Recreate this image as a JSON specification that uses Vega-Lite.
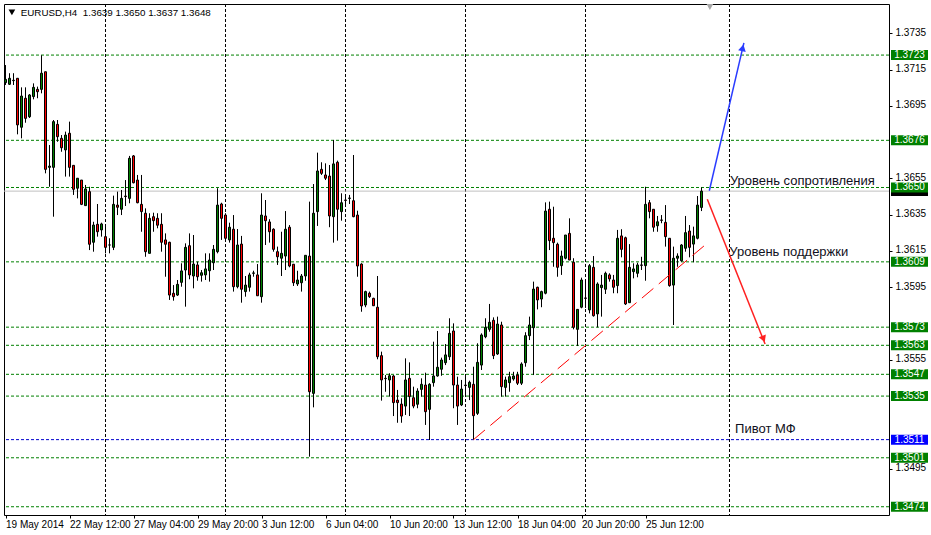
{
  "$schema": "https://vega.github.io/schema/vega-lite/v6.json",
  "width": 885,
  "height": 511,
  "autosize": {"type": "none"},
  "padding": {"left": 4, "top": 4, "right": 42, "bottom": 20},
  "background": "white",
  "config": {"font": "Liberation Sans", "view": {"stroke": "black", "strokeWidth": 1}, "axis": {"labelOverlap": false, "labelFlush": false, "labelBound": false}, "axisY": {"labelOverlap": false}},
  "datasets": {
    "candles": [
      {"i":0,"o":1.37078,"h":1.37175,"l":1.37065,"c":1.37096},
      {"i":1,"o":1.37069,"h":1.37130,"l":1.37065,"c":1.37102},
      {"i":2,"o":1.37089,"h":1.37130,"l":1.37065,"c":1.37091},
      {"i":3,"o":1.37102,"h":1.37102,"l":1.36793,"c":1.36845},
      {"i":4,"o":1.36832,"h":1.37052,"l":1.36771,"c":1.37004},
      {"i":5,"o":1.36992,"h":1.37052,"l":1.36857,"c":1.36881},
      {"i":6,"o":1.36890,"h":1.37015,"l":1.36883,"c":1.37010},
      {"i":7,"o":1.37001,"h":1.37074,"l":1.36986,"c":1.37052},
      {"i":8,"o":1.37041,"h":1.37056,"l":1.36992,"c":1.37028},
      {"i":9,"o":1.37041,"h":1.37229,"l":1.37019,"c":1.37130},
      {"i":10,"o":1.37138,"h":1.37138,"l":1.36578,"c":1.36600},
      {"i":11,"o":1.36611,"h":1.36734,"l":1.36504,"c":1.36618},
      {"i":12,"o":1.36611,"h":1.36872,"l":1.36339,"c":1.36863},
      {"i":13,"o":1.36848,"h":1.36872,"l":1.36752,"c":1.36780},
      {"i":14,"o":1.36771,"h":1.36789,"l":1.36697,"c":1.36719},
      {"i":15,"o":1.36707,"h":1.36808,"l":1.36560,"c":1.36789},
      {"i":16,"o":1.36799,"h":1.36863,"l":1.36560,"c":1.36611},
      {"i":17,"o":1.36622,"h":1.36622,"l":1.36459,"c":1.36490},
      {"i":18,"o":1.36496,"h":1.36551,"l":1.36440,"c":1.36551},
      {"i":19,"o":1.36541,"h":1.36541,"l":1.36403,"c":1.36407},
      {"i":20,"o":1.36400,"h":1.36514,"l":1.36400,"c":1.36492},
      {"i":21,"o":1.36477,"h":1.36504,"l":1.36155,"c":1.36187},
      {"i":22,"o":1.36198,"h":1.36311,"l":1.36146,"c":1.36293},
      {"i":23,"o":1.36297,"h":1.36409,"l":1.36229,"c":1.36256},
      {"i":24,"o":1.36266,"h":1.36306,"l":1.36229,"c":1.36299},
      {"i":25,"o":1.36229,"h":1.36284,"l":1.36137,"c":1.36170},
      {"i":26,"o":1.36183,"h":1.36220,"l":1.36137,"c":1.36183},
      {"i":27,"o":1.36170,"h":1.36455,"l":1.36155,"c":1.36407},
      {"i":28,"o":1.36403,"h":1.36477,"l":1.36348,"c":1.36391},
      {"i":29,"o":1.36380,"h":1.36486,"l":1.36348,"c":1.36440},
      {"i":30,"o":1.36453,"h":1.36541,"l":1.36398,"c":1.36450},
      {"i":31,"o":1.36440,"h":1.36674,"l":1.36413,"c":1.36661},
      {"i":32,"o":1.36674,"h":1.36679,"l":1.36523,"c":1.36526},
      {"i":33,"o":1.36541,"h":1.36569,"l":1.36413,"c":1.36416},
      {"i":34,"o":1.36407,"h":1.36569,"l":1.36256,"c":1.36367},
      {"i":35,"o":1.36358,"h":1.36385,"l":1.36118,"c":1.36146},
      {"i":36,"o":1.36137,"h":1.36358,"l":1.36137,"c":1.36330},
      {"i":37,"o":1.36339,"h":1.36361,"l":1.36256,"c":1.36317},
      {"i":38,"o":1.36330,"h":1.36358,"l":1.36275,"c":1.36292},
      {"i":39,"o":1.36297,"h":1.36358,"l":1.36146,"c":1.36198},
      {"i":40,"o":1.36211,"h":1.36247,"l":1.36008,"c":1.36187},
      {"i":41,"o":1.36198,"h":1.36201,"l":1.35880,"c":1.35907},
      {"i":42,"o":1.35917,"h":1.35962,"l":1.35876,"c":1.35898},
      {"i":43,"o":1.35907,"h":1.35990,"l":1.35902,"c":1.35966},
      {"i":44,"o":1.35977,"h":1.36082,"l":1.35953,"c":1.36040},
      {"i":45,"o":1.36045,"h":1.36192,"l":1.35843,"c":1.36170},
      {"i":46,"o":1.36179,"h":1.36247,"l":1.35994,"c":1.36018},
      {"i":47,"o":1.36012,"h":1.36238,"l":1.35944,"c":1.36078},
      {"i":48,"o":1.36073,"h":1.36091,"l":1.35986,"c":1.36008},
      {"i":49,"o":1.36016,"h":1.36045,"l":1.35981,"c":1.36030},
      {"i":50,"o":1.36018,"h":1.36137,"l":1.35990,"c":1.36051},
      {"i":51,"o":1.36041,"h":1.36137,"l":1.35981,"c":1.36100},
      {"i":52,"o":1.36085,"h":1.36183,"l":1.36045,"c":1.36159},
      {"i":53,"o":1.36146,"h":1.36496,"l":1.36137,"c":1.36403},
      {"i":54,"o":1.36409,"h":1.36416,"l":1.36211,"c":1.36330},
      {"i":55,"o":1.36348,"h":1.36358,"l":1.36201,"c":1.36220},
      {"i":56,"o":1.36211,"h":1.36306,"l":1.36196,"c":1.36281},
      {"i":57,"o":1.36270,"h":1.36348,"l":1.35926,"c":1.35953},
      {"i":58,"o":1.35953,"h":1.36271,"l":1.35944,"c":1.36183},
      {"i":59,"o":1.36188,"h":1.36233,"l":1.35865,"c":1.35939},
      {"i":60,"o":1.35926,"h":1.36012,"l":1.35898,"c":1.35962},
      {"i":61,"o":1.35950,"h":1.36030,"l":1.35926,"c":1.36018},
      {"i":62,"o":1.36027,"h":1.36041,"l":1.36008,"c":1.36029},
      {"i":63,"o":1.36018,"h":1.36078,"l":1.35903,"c":1.35903},
      {"i":64,"o":1.35898,"h":1.36468,"l":1.35865,"c":1.36348},
      {"i":65,"o":1.36343,"h":1.36431,"l":1.36183,"c":1.36317},
      {"i":66,"o":1.36310,"h":1.36325,"l":1.36196,"c":1.36256},
      {"i":67,"o":1.36270,"h":1.36275,"l":1.36146,"c":1.36159},
      {"i":68,"o":1.36146,"h":1.36174,"l":1.36073,"c":1.36118},
      {"i":69,"o":1.36110,"h":1.36256,"l":1.36012,"c":1.36137},
      {"i":70,"o":1.36122,"h":1.36370,"l":1.36045,"c":1.36270},
      {"i":71,"o":1.36281,"h":1.36293,"l":1.36060,"c":1.36067},
      {"i":72,"o":1.36077,"h":1.36077,"l":1.35957,"c":1.35975},
      {"i":73,"o":1.35968,"h":1.36041,"l":1.35957,"c":1.35990},
      {"i":74,"o":1.35975,"h":1.36023,"l":1.35926,"c":1.36012},
      {"i":75,"o":1.36012,"h":1.36126,"l":1.35986,"c":1.36126},
      {"i":76,"o":1.36122,"h":1.36422,"l":1.35016,"c":1.35374},
      {"i":77,"o":1.35365,"h":1.36519,"l":1.35288,"c":1.36358},
      {"i":78,"o":1.36367,"h":1.36692,"l":1.36288,"c":1.36591},
      {"i":79,"o":1.36600,"h":1.36639,"l":1.36569,"c":1.36578},
      {"i":80,"o":1.36569,"h":1.36633,"l":1.36541,"c":1.36551},
      {"i":81,"o":1.36563,"h":1.36624,"l":1.36281,"c":1.36343},
      {"i":82,"o":1.36339,"h":1.36762,"l":1.36196,"c":1.36630},
      {"i":83,"o":1.36639,"h":1.36648,"l":1.36207,"c":1.36380},
      {"i":84,"o":1.36367,"h":1.36468,"l":1.36317,"c":1.36416},
      {"i":85,"o":1.36431,"h":1.36459,"l":1.36403,"c":1.36429},
      {"i":86,"o":1.36440,"h":1.36459,"l":1.36409,"c":1.36442},
      {"i":87,"o":1.36427,"h":1.36679,"l":1.36336,"c":1.36339},
      {"i":88,"o":1.36348,"h":1.36372,"l":1.36008,"c":1.36067},
      {"i":89,"o":1.36078,"h":1.36082,"l":1.35815,"c":1.35847},
      {"i":90,"o":1.35852,"h":1.35931,"l":1.35840,"c":1.35926},
      {"i":91,"o":1.35917,"h":1.35926,"l":1.35891,"c":1.35898},
      {"i":92,"o":1.35889,"h":1.35892,"l":1.35847,"c":1.35848},
      {"i":93,"o":1.35840,"h":1.36012,"l":1.35553,"c":1.35567},
      {"i":94,"o":1.35573,"h":1.35595,"l":1.35325,"c":1.35439},
      {"i":95,"o":1.35448,"h":1.35466,"l":1.35374,"c":1.35446},
      {"i":96,"o":1.35439,"h":1.35476,"l":1.35347,"c":1.35462},
      {"i":97,"o":1.35461,"h":1.35466,"l":1.35240,"c":1.35314},
      {"i":98,"o":1.35328,"h":1.35384,"l":1.35203,"c":1.35314},
      {"i":99,"o":1.35306,"h":1.35338,"l":1.35203,"c":1.35240},
      {"i":100,"o":1.35295,"h":1.35558,"l":1.35246,"c":1.35439},
      {"i":101,"o":1.35448,"h":1.35536,"l":1.35240,"c":1.35347},
      {"i":102,"o":1.35341,"h":1.35402,"l":1.35283,"c":1.35295},
      {"i":103,"o":1.35305,"h":1.35393,"l":1.35283,"c":1.35378},
      {"i":104,"o":1.35387,"h":1.35448,"l":1.35347,"c":1.35415},
      {"i":105,"o":1.35411,"h":1.35479,"l":1.35191,"c":1.35264},
      {"i":106,"o":1.35277,"h":1.35421,"l":1.35108,"c":1.35415},
      {"i":107,"o":1.35424,"h":1.35650,"l":1.35402,"c":1.35461},
      {"i":108,"o":1.35461,"h":1.35709,"l":1.35457,"c":1.35509},
      {"i":109,"o":1.35498,"h":1.35562,"l":1.35462,"c":1.35549},
      {"i":110,"o":1.35534,"h":1.35637,"l":1.35521,"c":1.35577},
      {"i":111,"o":1.35567,"h":1.35779,"l":1.35549,"c":1.35696},
      {"i":112,"o":1.35709,"h":1.35751,"l":1.35283,"c":1.35411},
      {"i":113,"o":1.35411,"h":1.35457,"l":1.35191,"c":1.35295},
      {"i":114,"o":1.35301,"h":1.35439,"l":1.35295,"c":1.35389},
      {"i":115,"o":1.35411,"h":1.35457,"l":1.35347,"c":1.35408},
      {"i":116,"o":1.35398,"h":1.35435,"l":1.35328,"c":1.35426},
      {"i":117,"o":1.35415,"h":1.35512,"l":1.35110,"c":1.35242},
      {"i":118,"o":1.35255,"h":1.35641,"l":1.35246,"c":1.35536},
      {"i":119,"o":1.35521,"h":1.35696,"l":1.35494,"c":1.35687},
      {"i":120,"o":1.35677,"h":1.35779,"l":1.35669,"c":1.35729},
      {"i":121,"o":1.35718,"h":1.35858,"l":1.35705,"c":1.35757},
      {"i":122,"o":1.35768,"h":1.35784,"l":1.35554,"c":1.35573},
      {"i":123,"o":1.35582,"h":1.35788,"l":1.35577,"c":1.35747},
      {"i":124,"o":1.35742,"h":1.35760,"l":1.35347,"c":1.35402},
      {"i":125,"o":1.35398,"h":1.35457,"l":1.35347,"c":1.35439},
      {"i":126,"o":1.35424,"h":1.35484,"l":1.35374,"c":1.35457},
      {"i":127,"o":1.35444,"h":1.35484,"l":1.35435,"c":1.35461},
      {"i":128,"o":1.35466,"h":1.35484,"l":1.35411,"c":1.35421},
      {"i":129,"o":1.35421,"h":1.35536,"l":1.35411,"c":1.35527},
      {"i":130,"o":1.35534,"h":1.35702,"l":1.35512,"c":1.35683},
      {"i":131,"o":1.35683,"h":1.35788,"l":1.35659,"c":1.35742},
      {"i":132,"o":1.35727,"h":1.35981,"l":1.35466,"c":1.35940},
      {"i":133,"o":1.35950,"h":1.35953,"l":1.35828,"c":1.35880},
      {"i":134,"o":1.35885,"h":1.35931,"l":1.35840,"c":1.35926},
      {"i":135,"o":1.35917,"h":1.36418,"l":1.35911,"c":1.36370},
      {"i":136,"o":1.36380,"h":1.36422,"l":1.36155,"c":1.36207},
      {"i":137,"o":1.36220,"h":1.36394,"l":1.36063,"c":1.36196},
      {"i":138,"o":1.36187,"h":1.36196,"l":1.36008,"c":1.36060},
      {"i":139,"o":1.36069,"h":1.36152,"l":1.36018,"c":1.36122},
      {"i":140,"o":1.36110,"h":1.36238,"l":1.36104,"c":1.36238},
      {"i":141,"o":1.36247,"h":1.36330,"l":1.36100,"c":1.36100},
      {"i":142,"o":1.36088,"h":1.36110,"l":1.35718,"c":1.35729},
      {"i":143,"o":1.35718,"h":1.35828,"l":1.35626,"c":1.35828},
      {"i":144,"o":1.35840,"h":1.36003,"l":1.35834,"c":1.35990},
      {"i":145,"o":1.35891,"h":1.35984,"l":1.35836,"c":1.35889},
      {"i":146,"o":1.35825,"h":1.36078,"l":1.35806,"c":1.36069},
      {"i":147,"o":1.36060,"h":1.36122,"l":1.35788,"c":1.35793},
      {"i":148,"o":1.35803,"h":1.35977,"l":1.35729,"c":1.35968},
      {"i":149,"o":1.35948,"h":1.36018,"l":1.35788,"c":1.35962},
      {"i":150,"o":1.35939,"h":1.36036,"l":1.35913,"c":1.36027},
      {"i":151,"o":1.36018,"h":1.36027,"l":1.35981,"c":1.35996},
      {"i":152,"o":1.35990,"h":1.36018,"l":1.35917,"c":1.35950},
      {"i":153,"o":1.35959,"h":1.36266,"l":1.35917,"c":1.36220},
      {"i":154,"o":1.36233,"h":1.36270,"l":1.36115,"c":1.36159},
      {"i":155,"o":1.36223,"h":1.36229,"l":1.35852,"c":1.35858},
      {"i":156,"o":1.35865,"h":1.36188,"l":1.35865,"c":1.36060},
      {"i":157,"o":1.36036,"h":1.36082,"l":1.35999,"c":1.36051},
      {"i":158,"o":1.36027,"h":1.36085,"l":1.36005,"c":1.36073},
      {"i":159,"o":1.36073,"h":1.36118,"l":1.36045,"c":1.36071},
      {"i":160,"o":1.36069,"h":1.36504,"l":1.35986,"c":1.36407},
      {"i":161,"o":1.36416,"h":1.36431,"l":1.36330,"c":1.36367},
      {"i":162,"o":1.36380,"h":1.36380,"l":1.36256,"c":1.36281},
      {"i":163,"o":1.36289,"h":1.36343,"l":1.36256,"c":1.36311},
      {"i":164,"o":1.36321,"h":1.36348,"l":1.36303,"c":1.36319},
      {"i":165,"o":1.36308,"h":1.36403,"l":1.36174,"c":1.36229},
      {"i":166,"o":1.36220,"h":1.36220,"l":1.35953,"c":1.35959},
      {"i":167,"o":1.35962,"h":1.36174,"l":1.35742,"c":1.36110},
      {"i":168,"o":1.36110,"h":1.36137,"l":1.36063,"c":1.36122},
      {"i":169,"o":1.36096,"h":1.36188,"l":1.36091,"c":1.36183},
      {"i":170,"o":1.36165,"h":1.36343,"l":1.36146,"c":1.36251},
      {"i":171,"o":1.36260,"h":1.36293,"l":1.36115,"c":1.36170},
      {"i":172,"o":1.36188,"h":1.36284,"l":1.36088,"c":1.36233},
      {"i":173,"o":1.36220,"h":1.36453,"l":1.36214,"c":1.36403},
      {"i":174,"o":1.3639,"h":1.3650,"l":1.3637,"c":1.3648}
    ],
    "levels": [
      {"p":1.3723,"kind":"level"},{"p":1.3676,"kind":"level"},{"p":1.3650,"kind":"level"},
      {"p":1.3609,"kind":"level"},{"p":1.3573,"kind":"level"},{"p":1.3563,"kind":"level"},
      {"p":1.3547,"kind":"level"},{"p":1.3535,"kind":"level"},{"p":1.3511,"kind":"pivot"},
      {"p":1.3501,"kind":"level"},{"p":1.3474,"kind":"level"}
    ],
    "grid": [{"i":25},{"i":55},{"i":85},{"i":115},{"i":145},{"i":181}],
    "trend": [{"i":117,"p":1.3511},{"i":174.9,"p":1.36183}],
    "upArrow": [{"i":175.95,"p":1.36482},{"i":184.6,"p":1.37297}],
    "downArrow": [{"i":175.45,"p":1.36435},{"i":189.9,"p":1.35637}],
    "notes": [
      {"i":181.1,"p":1.36512,"t":"Уровень сопротивления"},
      {"i":180.95,"p":1.36122,"t":"Уровень поддержки"},
      {"i":182.4,"p":1.35146,"t":"Пивот МФ"}
    ]
  },
  "layer": [
    {
      "data": {"name": "grid"},
      "mark": {"type": "rule", "color": "black", "strokeWidth": 1, "strokeDash": [3, 2]},
      "encoding": {
        "x": {"field": "i", "type": "quantitative", "title": null, "scale": {"domain": [-0.375, 220.875], "nice": false, "zero": false, "padding": 0}}
      }
    },
    {
      "data": {"name": "levels"},
      "mark": {"type": "rule", "strokeWidth": 1, "strokeDash": [3, 2]},
      "encoding": {
        "y": {"field": "p", "type": "quantitative", "title": null, "scale": {"domain": [1.346945, 1.375115], "nice": false, "zero": false, "padding": 0}},
        "stroke": {"condition": {"test": "datum.kind == 'pivot'", "value": "#0000cd"}, "value": "#008000"}
      }
    },
    {
      "data": {"values": [{"p": 1.3648}]},
      "mark": {"type": "rule", "color": "#c0c0c0", "strokeWidth": 1},
      "encoding": {
        "y": {"field": "p", "type": "quantitative", "title": null, "scale": {"domain": [1.346945, 1.375115], "nice": false, "zero": false, "padding": 0}}
      }
    },
    {
      "data": {"name": "candles"},
      "mark": {"type": "rule", "color": "black", "strokeWidth": 1},
      "encoding": {
        "x": {"field": "i", "type": "quantitative", "title": null, "scale": {"domain": [-0.375, 220.875], "nice": false, "zero": false, "padding": 0}},
        "y": {"field": "l", "type": "quantitative", "title": null, "scale": {"domain": [1.346945, 1.375115], "nice": false, "zero": false, "padding": 0}},
        "y2": {"field": "h"}
      }
    },
    {
      "data": {"name": "candles"},
      "mark": {"type": "bar", "orient": "vertical", "size": 2, "stroke": "black", "strokeWidth": 1},
      "encoding": {
        "x": {"field": "i", "type": "quantitative", "title": null, "scale": {"domain": [-0.375, 220.875], "nice": false, "zero": false, "padding": 0},
          "axis": {"title": null, "orient": "bottom", "values": [0, 16, 32, 48, 64, 80, 96, 112, 128, 144, 160],
            "labelExpr": "['19 May 2014','22 May 12:00','27 May 04:00','29 May 20:00','3 Jun 12:00','6 Jun 04:00','10 Jun 20:00','13 Jun 12:00','18 Jun 04:00','20 Jun 20:00','25 Jun 12:00'][datum.value/16]",
            "labelAlign": "left", "labelBaseline": "top", "labelPadding": 1, "labelFontSize": 10, "labelColor": "black",
            "labelOverlap": false, "labelFlush": false, "labelBound": false,
            "tickSize": 3, "tickColor": "black", "domain": false, "grid": false}},
        "y": {"field": "o", "type": "quantitative", "title": null, "scale": {"domain": [1.346945, 1.375115], "nice": false, "zero": false, "padding": 0},
          "axis": {"title": null, "orient": "right",
            "values": [1.3735, 1.3715, 1.3695, 1.3655, 1.3635, 1.3615, 1.3595, 1.3555, 1.3495],
            "format": ".4f", "labelAlign": "left", "labelBaseline": "middle", "labelPadding": 3, "labelOffset": -1, "labelFontSize": 10, "labelColor": "black",
            "labelOverlap": false, "labelFlush": false, "labelBound": false,
            "tickSize": 3, "tickColor": "black", "domain": false, "grid": false}},
        "y2": {"field": "c"},
        "fill": {"condition": {"test": "datum.c >= datum.o", "value": "#008000"}, "value": "#ff0000"}
      }
    },
    {
      "data": {"name": "trend"},
      "mark": {"type": "line", "color": "#ff0000", "strokeWidth": 1, "strokeDash": [15, 7]},
      "encoding": {
        "x": {"field": "i", "type": "quantitative", "title": null},
        "y": {"field": "p", "type": "quantitative", "title": null}
      }
    },
    {
      "data": {"name": "upArrow"},
      "mark": {"type": "line", "color": "#2a3cff", "strokeWidth": 1.5},
      "encoding": {
        "x": {"field": "i", "type": "quantitative", "title": null},
        "y": {"field": "p", "type": "quantitative", "title": null}
      }
    },
    {
      "data": {"name": "downArrow"},
      "mark": {"type": "line", "color": "#ff2020", "strokeWidth": 1.5},
      "encoding": {
        "x": {"field": "i", "type": "quantitative", "title": null},
        "y": {"field": "p", "type": "quantitative", "title": null}
      }
    },
    {
      "data": {"values": [{"i": 184.3, "p": 1.37270}]},
      "mark": {"type": "point", "shape": "triangle-up", "filled": true, "color": "#2a3cff", "size": 60, "angle": 13, "opacity": 1},
      "encoding": {
        "x": {"field": "i", "type": "quantitative", "title": null},
        "y": {"field": "p", "type": "quantitative", "title": null}
      }
    },
    {
      "data": {"values": [{"i": 189.5, "p": 1.35665}]},
      "mark": {"type": "point", "shape": "triangle-down", "filled": true, "color": "#ff2020", "size": 60, "angle": 338, "opacity": 1},
      "encoding": {
        "x": {"field": "i", "type": "quantitative", "title": null},
        "y": {"field": "p", "type": "quantitative", "title": null}
      }
    },
    {
      "data": {"name": "notes"},
      "mark": {"type": "text", "align": "left", "baseline": "alphabetic", "fontSize": 13, "color": "#101020"},
      "encoding": {
        "x": {"field": "i", "type": "quantitative", "title": null},
        "y": {"field": "p", "type": "quantitative", "title": null},
        "text": {"field": "t"}
      }
    },
    {
      "data": {"values": [{"i": 3.8, "p": 1.37462, "t": "EURUSD,H4 \u00a01.3639 1.3650 1.3637 1.3648"}]},
      "mark": {"type": "text", "align": "left", "baseline": "middle", "fontSize": 9.8, "color": "black"},
      "encoding": {
        "x": {"field": "i", "type": "quantitative", "title": null},
        "y": {"field": "p", "type": "quantitative", "title": null},
        "text": {"field": "t"}
      }
    },
    {
      "data": {"values": [{"i": 1.6, "p": 1.37465, "k": "menu"}, {"i": 176.1, "p": 1.37495, "k": "shift"}]},
      "mark": {"type": "point", "shape": "triangle-down", "filled": true, "opacity": 1, "size": 45},
      "encoding": {
        "x": {"field": "i", "type": "quantitative", "title": null},
        "y": {"field": "p", "type": "quantitative", "title": null},
        "fill": {"condition": {"test": "datum.k == 'menu'", "value": "black"}, "value": "#a8a8a8"}
      }
    },
    {
      "data": {"values": [{"p": 1.3648}]},
      "mark": {"type": "bar", "orient": "horizontal", "size": 10, "color": "black"},
      "encoding": {
        "x": {"datum": 221.375, "type": "quantitative", "title": null},
        "x2": {"datum": 230.625},
        "y": {"field": "p", "type": "quantitative", "title": null}
      }
    },
    {
      "data": {"name": "levels"},
      "mark": {"type": "bar", "orient": "horizontal", "size": 10},
      "encoding": {
        "x": {"datum": 221.375, "type": "quantitative", "title": null},
        "x2": {"datum": 230.625},
        "y": {"field": "p", "type": "quantitative", "title": null},
        "fill": {"condition": {"test": "datum.kind == 'pivot'", "value": "#0000ff"}, "value": "#008000"}
      }
    },
    {
      "data": {"name": "levels"},
      "mark": {"type": "text", "align": "center", "baseline": "middle", "fontSize": 10, "color": "white"},
      "encoding": {
        "x": {"datum": 226, "type": "quantitative", "title": null},
        "y": {"field": "p", "type": "quantitative", "title": null},
        "text": {"field": "p", "type": "quantitative", "format": ".4f"}
      }
    }
  ]
}
